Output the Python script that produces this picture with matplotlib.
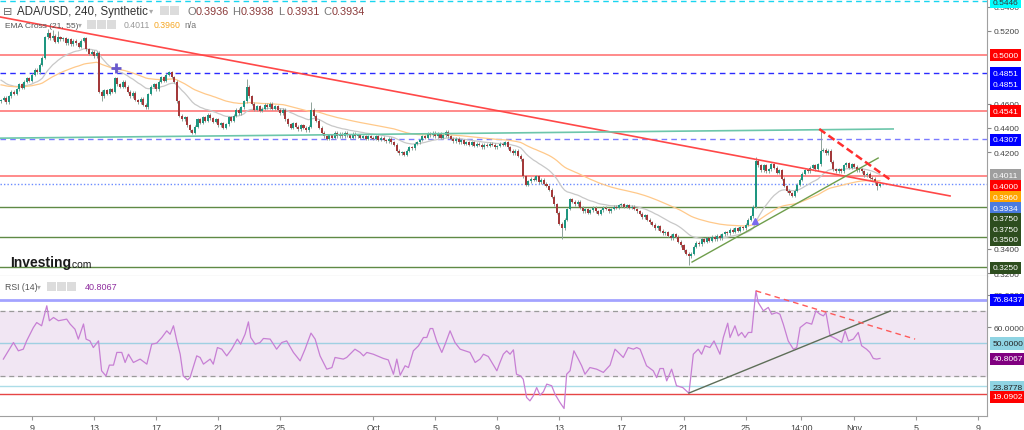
import numpy as np
import pandas as pd
import matplotlib.pyplot as plt
import matplotlib.transforms as mtrans
from matplotlib.patches import Rectangle

plt.rcParams['font.family'] = ['Liberation Sans', 'DejaVu Sans']

# ADA/USD 4h closes, Sep 7 00:00 -> Nov 2 16:00 (6 bars a day)
close = [
    0.463, 0.465, 0.461, 0.466, 0.470, 0.468,  # Sep 7
    0.472, 0.476, 0.473, 0.478, 0.481, 0.479,
    0.484, 0.488, 0.486, 0.492, 0.498, 0.515,  # Sep 9
    0.518, 0.514, 0.516, 0.511, 0.515, 0.513,
    0.514, 0.510, 0.513, 0.509, 0.512, 0.510,
    0.507, 0.512, 0.514, 0.505, 0.501, 0.503,
    0.499, 0.502, 0.470, 0.466, 0.471, 0.468,  # Sep 13
    0.472, 0.470, 0.481, 0.476, 0.474, 0.478,
    0.474, 0.470, 0.466, 0.469, 0.463, 0.461,
    0.464, 0.459, 0.457, 0.468, 0.474, 0.476,
    0.472, 0.478, 0.482, 0.479, 0.484, 0.486,  # Sep 17
    0.482, 0.478, 0.462, 0.450, 0.447, 0.449,
    0.442, 0.438, 0.436, 0.441, 0.447, 0.444,
    0.449, 0.446, 0.451, 0.448, 0.445, 0.447,
    0.442, 0.444, 0.440, 0.443, 0.449, 0.446,  # Sep 21
    0.450, 0.455, 0.452, 0.457, 0.462, 0.474,
    0.466, 0.460, 0.455, 0.458, 0.454, 0.456,
    0.459, 0.457, 0.460, 0.456, 0.458, 0.455,
    0.452, 0.455, 0.447, 0.443, 0.440, 0.444,  # Sep 25
    0.441, 0.439, 0.442, 0.440, 0.438, 0.441,
    0.455, 0.450, 0.446, 0.440, 0.436, 0.433,
    0.431, 0.434, 0.432, 0.436, 0.433, 0.435,
    0.433, 0.436, 0.434, 0.432, 0.435, 0.433,
    0.434, 0.432, 0.433, 0.431, 0.433, 0.432,
    0.431, 0.433, 0.430, 0.432, 0.430, 0.429,  # Oct 1
    0.431, 0.428, 0.426, 0.421, 0.419, 0.420,
    0.418, 0.421, 0.424, 0.423, 0.427, 0.428,
    0.430, 0.433, 0.432, 0.435, 0.434, 0.436,
    0.433, 0.435, 0.432, 0.434, 0.437, 0.433,  # Oct 5
    0.431, 0.429, 0.431, 0.428, 0.430, 0.427,
    0.428, 0.426, 0.428, 0.425, 0.427, 0.426,
    0.424, 0.426, 0.425, 0.427, 0.426, 0.424,
    0.425, 0.427, 0.426, 0.428, 0.424, 0.421,  # Oct 9
    0.419, 0.421, 0.417, 0.414, 0.400, 0.393,
    0.396, 0.398, 0.397, 0.400, 0.395, 0.397,
    0.394, 0.392, 0.389, 0.383, 0.377, 0.370,
    0.361, 0.357, 0.364, 0.373, 0.381, 0.379,  # Oct 13
    0.377, 0.379, 0.374, 0.371, 0.373, 0.370,
    0.372, 0.374, 0.371, 0.369, 0.372, 0.374,
    0.373, 0.371, 0.373, 0.375, 0.374, 0.376,
    0.377, 0.375, 0.376, 0.374, 0.375, 0.373,  # Oct 17
    0.371, 0.369, 0.366, 0.368, 0.364, 0.362,
    0.360, 0.357, 0.359, 0.355, 0.353, 0.354,
    0.351, 0.349, 0.352, 0.350, 0.346, 0.343,
    0.339, 0.336, 0.334, 0.336, 0.342, 0.345,  # Oct 21
    0.344, 0.348, 0.346, 0.349, 0.347, 0.350,
    0.348, 0.351, 0.349, 0.352, 0.354, 0.353,
    0.356, 0.354, 0.357, 0.355, 0.358, 0.357,
    0.360, 0.364, 0.367, 0.375, 0.413, 0.409,  # Oct 25
    0.405, 0.409, 0.404, 0.406, 0.410, 0.407,
    0.403, 0.405, 0.398, 0.392, 0.388, 0.386,
    0.384, 0.388, 0.393, 0.397, 0.402, 0.405,
    0.404, 0.407, 0.409, 0.406, 0.410, 0.421,  # Oct 29
    0.422, 0.419, 0.421, 0.412, 0.406, 0.404,
    0.406, 0.404, 0.409, 0.411, 0.407, 0.410,
    0.408, 0.405, 0.406, 0.404, 0.401, 0.402,  # Nov 1
    0.399, 0.398, 0.395, 0.392, 0.3934,
]
first_open = 0.462

# long wicks
spike_i = [18, 20, 22, 95, 120, 292, 317]
spike_hi = [0.522, 0.521, 0.520, 0.480, 0.461, 0.416, 0.439]
dip_i = [39, 217, 266, 339]
dip_lo = [0.462, 0.348, 0.327, 0.389]

# EMA starting values (read at the left edge)
ema_seed = {21: 0.481, 55: 0.476}

# RSI(14), x in 4h-bar index
rsi_x = [0.9, 4.8, 6.7, 8.6, 9.9, 12.5, 13.8, 15.7, 17.7, 18.7,
         20.3, 22.2, 25.4, 26.7, 28.6, 29.9, 31.9, 32.9, 34.4, 35.7,
         37.7, 38.9, 40.6, 41.9, 43.5, 44.8, 46.7, 48, 49.3, 51.2,
         53.8, 56.4, 58.3, 60.2, 62.2, 64.1, 65.4, 66.7, 68, 69.3,
         70.5, 72.2, 73.1, 75.7, 77, 78.3, 80.9, 82.1, 83.7, 85.4,
         87.3, 89.2, 91.4, 92.7, 94.4, 95.7, 96.6, 98.3, 100.2, 101.5,
         104.1, 106.6, 108.6, 110.5, 113.1, 115.7, 117.6, 119.9, 121.5, 123.4,
         126, 128, 129.2, 132.4, 133.7, 136.9, 138.9, 140.2, 141.5, 144,
         147.9, 149.8, 151.8, 153.1, 154.4, 156.3, 157.6, 159.5, 161.5, 163.4,
         164.7, 166, 167, 168.5, 170.5, 171.8, 173.7, 175.6, 177.6, 181.4,
         183.4, 185.3, 186.6, 188.5, 191.8,
         193.0, 194.3, 195.6, 196.9, 198.2, 199.4, 201, 202, 203.3, 204.6,
         205.9, 207.2, 208.5, 209.8, 211.1, 213, 214.3, 216.2, 217.8, 218.8,
         220.1, 221.6, 223.3, 224.6, 225.9, 227.8, 230.4, 233, 235.6, 237.5,
         238.8, 240.7, 242.6, 244.6, 245.9, 247.2, 249.7, 252.3, 253.6, 254.9,
         256.2, 257.5, 259.4, 261.3, 263.7, 266.1, 267.8, 269.7, 271, 272.3,
         274.2, 275.8, 278.1, 279.4, 281.1, 282, 283.9, 285.2, 286.5, 287.8,
         289.1, 290.4, 292, 292.9, 294.9, 296.8, 298.1, 300, 301.3, 302.6,
         304.5, 306.5, 307.8, 309.1, 311.6, 313.6, 315.2, 316.8, 318.1, 319.1,
         320.7, 322, 323.2, 325.2, 326.5, 327.8, 329.7, 331.6, 332.9, 334.8,
         336.1, 337.4, 338.7, 340]
rsi_v = [40.4, 50.6, 45.5, 46.5, 51.6, 59.8, 62.9, 60.9, 73.2, 64,
         66, 64, 65, 62, 58.8, 52.7, 62, 52.7, 51.6, 47.5,
         51.6, 33.2, 30, 36.7, 36.7, 44.5, 44.5, 38.3, 43.4, 38.3,
         40.4, 37.3, 49.6, 50.2, 53.7, 57.8, 55.7, 60.9, 51.6, 43.4,
         30, 27.6, 29, 42.4, 41.4, 37.3, 40.4, 37.3, 47.5, 46.5,
         42.4, 46.5, 52.7, 49.6, 55.7, 63.3, 53.7, 49.6, 50.6, 53.1,
         52.7, 46.5, 50.6, 51.6, 44.5, 39.3, 46.5, 56.4, 52.7, 42.4,
         34.2, 35.2, 41.4, 40.4, 41.4, 46.5, 44.5, 42.4, 44.5, 43.4,
         40.8, 39.9, 31.1, 40.4, 30.5, 36.3, 35.2, 45.5, 48.6, 53.7,
         53.7, 59.2, 59.2, 51.6, 44.5, 49.6, 57.8, 50.6, 46.5, 44.5,
         38.3, 40.4, 43.4, 42, 33.2,
         38.3, 43.4, 45.5, 43.4, 46.1, 31.1, 30, 28, 16.8, 14.7,
         17.8, 22.9, 18.2, 20.3, 25, 24, 18.8, 13.7, 10, 31.1,
         33.2, 45.5, 40.4, 36.3, 31.1, 35.2, 34.2, 32.2, 36.7, 46.5,
         44.5, 41.4, 47.5, 46.5, 47.5, 46.5, 36.3, 33.2, 29, 34.6,
         34.6, 27, 34.2, 24, 22.9, 19.4, 43.4, 46.5, 43.4, 48.6,
         47.5, 51.6, 43.4, 53.7, 62.5, 53.7, 60.9, 54.7, 56.8, 53.7,
         56.8, 56.8, 82.4, 75.2, 70.1, 72.2, 68, 69, 68, 61.9,
         51.6, 46.5, 47.5, 59.8, 62.9, 61.9, 70.1, 68, 67, 69,
         54.7, 53.7, 52.7, 50.6, 57.8, 51.6, 52.7, 56.8, 48.6, 46.5,
         44.5, 40.8, 40.4, 40.8]

# horizontal levels
red_levels = [0.5000, 0.4541, 0.4000]
blue_levels = [0.4851, 0.4307]
green_levels = [0.3750, 0.3500, 0.3250]
top_level = 0.5446
last_price = 0.3934

# drawn trendlines: (bar0, price0, bar1, price1)
long_red = (-0.4, 0.5316, 367.1, 0.3838)
teal_line = (-0.4, 0.4315, 345.1, 0.4391)
red_dash = (316.5, 0.4391, 344.7, 0.3961)
green_up = (267.3, 0.3292, 339.3, 0.4151)
rsi_up = (266.1, 19.5, 344.0, 70.0)
rsi_dash = (292.0, 82.4, 353.6, 52.7)

# price-scale ticks that are not hidden behind value tags
price_ticks = [0.32, 0.34, 0.42, 0.44, 0.46, 0.52, 0.54]
rsi_ticks = [60, 80]

tick_pos = [12, 36, 60, 84, 108, 144, 168, 192, 216, 240, 264, 288, 309.5, 330, 354, 378]
tick_lab = ['9', '13', '17', '21', '25', 'Oct', '5', '9', '13', '17', '21', '25',
            '14:00', 'Nov', '5', '9']

W, H = 1024, 431
fig = plt.figure(figsize=(W / 100, H / 100), dpi=100)
ax = fig.add_axes([0, 1 - 277 / H, 987 / W, 277 / H])
ax2 = fig.add_axes([0, 1 - 417 / H, 987 / W, 140 / H], sharex=ax)

def fx(px):
    return px / W

def fy(py):
    return 1 - py / H

# candles
c = np.array(close)
o = np.r_[first_open, c[:-1]]
x = np.arange(len(c))
hi = np.maximum(o, c) + 0.0012
lo = np.minimum(o, c) - 0.0012
hi[spike_i] = spike_hi
lo[dip_i] = dip_lo
up = c >= o
ax.vlines(x, lo, hi, color='#8fa39a', lw=0.7, zorder=3)
ax.bar(x, np.maximum(np.abs(c - o), 0.0004), bottom=np.minimum(o, c), width=0.78,
       color=np.where(up, '#1e9680', '#a3393a'), zorder=4)

# EMA cross
for span, col in [(21, '#c8c8c8'), (55, '#ffc98a')]:
    ema = pd.Series([ema_seed[span]] + close).ewm(span=span, adjust=False).mean()[1:]
    ax.plot(x, ema.values, color=col, lw=0.9, zorder=2)

# levels
for lv in red_levels:
    ax.axhline(lv, color='#ff6b6b', lw=1.1, zorder=1)
ax.axhline(blue_levels[0], color='#2b2bff', lw=1, ls=(0, (4, 3)), zorder=1)
ax.axhline(blue_levels[1], color='#7b7bff', lw=1, ls=(0, (4, 3)), zorder=1)
for lv in green_levels:
    ax.axhline(lv, color='#5f8a45', lw=1, zorder=1)
ax.axhline(top_level, color='#19d6f0', lw=1, ls=(0, (4, 3)), zorder=1)
ax.axhline(last_price, color='#6b8cff', lw=1, ls=(0, (1, 1.5)), zorder=1)

def seg(a, line, **kw):
    a.plot([line[0], line[2]], [line[1], line[3]], **kw)

seg(ax, long_red, color='#ff4848', lw=1.2, zorder=5)
seg(ax, teal_line, color='#6cc6aa', lw=1.2, zorder=5)
seg(ax, red_dash, color='#ff2e2e', lw=1.8, ls=(0, (3, 1.5)), zorder=6)
seg(ax, green_up, color='#6f9e4c', lw=1, zorder=5)

ax.plot([44.5], [0.4894], marker='+', ms=7, mew=2, color='#6a5acd', zorder=7)
ax.plot([291.7], [0.3631], marker='^', ms=5, color='#7b68ee', zorder=7)

ax.set_ylim(0.31769, 0.54642)
ax.set_xlim(-0.4, 381.4)

# RSI panel
ax2.axhspan(30, 70, color='#f1e6f3', zorder=0)
ax2.axhline(70, color='#9a9a9a', lw=0.9, ls=(0, (4, 3)))
ax2.axhline(30, color='#9a9a9a', lw=0.9, ls=(0, (4, 3)))
ax2.axhline(50, color='#9fd0e2', lw=1)
ax2.axhline(76.8437, color='#a3a3ff', lw=2)
ax2.axhline(23.8778, color='#acdde8', lw=1)
ax2.axhline(19.0902, color='#e64545', lw=1)
ax2.plot(rsi_x, rsi_v, color='#c77fd4', lw=0.9, zorder=3)
seg(ax2, rsi_up, color='#5e6e58', lw=1, zorder=4)
seg(ax2, rsi_dash, color='#ff5a5a', lw=1, ls=(0, (4, 3)), zorder=4)
ax2.set_ylim(5.38, 91.54)

for a in (ax, ax2):
    a.spines['left'].set_visible(False)
    a.spines['top'].set_visible(False)
    a.spines['right'].set_color('#a0a0a0')
    a.spines['bottom'].set_color('#a0a0a0')
    a.yaxis.tick_right()
    a.tick_params(axis='y', direction='out', length=3, pad=2, labelsize=6,
                  colors='#888888', labelcolor='#444444')

ax.set_yticks(price_ticks)
ax.yaxis.set_major_formatter(lambda v, p: f'{v:.4f}')
ax.tick_params(axis='x', length=0, labelbottom=False)
ax2.set_yticks(rsi_ticks)
ax2.yaxis.set_major_formatter(lambda v, p: f'{v:.4f}')
ax2.set_xticks(tick_pos, tick_lab)
ax2.tick_params(axis='x', direction='out', length=3, pad=2, labelsize=6.5,
                colors='#999999', labelcolor='#444444')

# right-hand value tags (stacked like the original)
tags_main = [
    ('0.5446', 0.5439, '#00ffff', '#333333'),
    ('0.5000', 0.5000, '#ff0000', 'white'),
    ('0.4851', 0.4849, '#0000ff', 'white'),
    ('0.4851', 0.4762, '#0000ff', 'white'),
    ('0.4541', 0.4539, '#ff0000', 'white'),
    ('0.4307', 0.4300, '#0000ff', 'white'),
    ('0.4011', 0.4005, '#9e9e9e', 'white'),
    ('0.4000', 0.3918, '#ff0000', 'white'),
    ('0.3960', 0.3827, '#ffa500', 'white'),
    ('0.3934', 0.3736, '#4a7be0', 'white'),
    ('0.3750', 0.3648, '#2d4d1e', 'white'),
    ('0.3750', 0.3559, '#2d4d1e', 'white'),
    ('0.3500', 0.3477, '#2d4d1e', 'white'),
    ('0.3250', 0.3243, '#2d4d1e', 'white'),
]
tags_rsi = [
    ('76.8437', 76.84, '#0000ff', 'white'),
    ('50.0000', 50.0, '#8fd4e3', '#222222'),
    ('40.8067', 40.5, '#800080', 'white'),
    ('23.8778', 22.9, '#8fd4e3', '#222222'),
    ('19.0902', 17.1, '#ff0000', 'white'),
]
for a, tags in ((ax, tags_main), (ax2, tags_rsi)):
    tr = mtrans.blended_transform_factory(a.transAxes, a.transData)
    for txt, yv, fc, tc in tags:
        a.text(1.0055, yv, txt, transform=tr, ha='left', va='center', fontsize=6,
               color=tc, clip_on=False, zorder=10,
               bbox=dict(boxstyle='square,pad=0.33', fc=fc, ec='none'))

# header texts
def icons(x0, y0, k):
    for j in range(k):
        fig.patches.append(Rectangle((fx(x0 + j * 10), fy(y0 + 9)), 9 / W, 9 / H,
                                     transform=fig.transFigure, fc='#dcdcdc', ec='none'))

fig.text(fx(3), fy(12), '⊟', fontsize=8, color='#666666', va='center')
fig.text(fx(17), fy(12), 'ADA/USD, 240, Synthetic', fontsize=8.3, color='#333333', va='center')
fig.text(fx(149), fy(12), '▾', fontsize=6, color='#aaaaaa', va='center')
icons(160, 7, 2)
for px, lab, val in [(187, 'O', '0.3936'), (232, 'H', '0.3938'), (278, 'L', '0.3931'), (323, 'C', '0.3934')]:
    fig.text(fx(px), fy(12), lab, fontsize=8, color='#777777', va='center')
    fig.text(fx(px + 8.5), fy(12), val, fontsize=7.8, color='#8b3a3a', va='center')

fig.text(fx(5), fy(26), 'EMA Cross (21, 55)', fontsize=6, color='#555555', va='center')
fig.text(fx(78), fy(26), '▾', fontsize=5.5, color='#aaaaaa', va='center')
icons(87, 21, 3)
fig.text(fx(124), fy(26), '0.4011', fontsize=6.3, color='#999999', va='center')
fig.text(fx(154), fy(26), '0.3960', fontsize=6.3, color='#f5a623', va='center')
fig.text(fx(184), fy(26), 'n/a', fontsize=6.3, color='#777777', va='center')

fig.text(fx(5), fy(288), 'RSI (14)', fontsize=6.3, color='#555555', va='center')
fig.text(fx(37), fy(288), '▾', fontsize=5.5, color='#aaaaaa', va='center')
icons(47, 283, 3)
fig.text(fx(85), fy(288), '40.8067', fontsize=6.5, color='#8e2c9e', va='center')

# watermark logo
logo = fig.text(fx(10), fy(267), 'Investing', fontsize=10, fontweight='bold',
                color='#1a1a1a', va='baseline')
ax.annotate('.com', xy=(1, 0), xycoords=logo, xytext=(-1.5, 0), textcoords='offset points',
            fontsize=7.5, color='#1a1a1a', va='bottom', ha='left', annotation_clip=False)

fig.savefig('out.png', dpi=100)
